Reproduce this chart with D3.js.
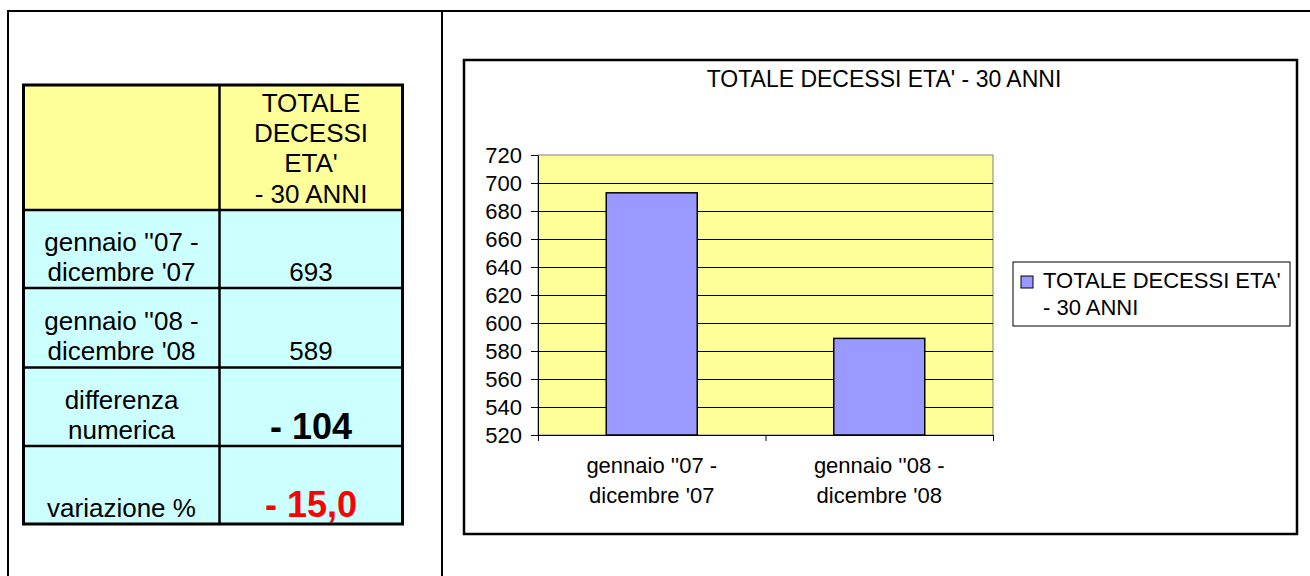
<!DOCTYPE html>
<html>
<head>
<meta charset="utf-8">
<script src="https://cdn.jsdelivr.net/npm/d3@7"></script>
<style>
  body { margin: 0; background: #fff; }
  svg { display: block; font-family: "Liberation Sans", Arial, sans-serif; }
</style>
</head>
<body>
<svg id="sheet" width="1310" height="576"></svg>
<script>
// data
var seriesName = ["TOTALE", "DECESSI", "ETA'", "- 30 ANNI"];
var legendLines = ["TOTALE DECESSI ETA'", "- 30 ANNI"];
var chartTitle = "TOTALE DECESSI ETA' - 30 ANNI";
var periods = [["gennaio ''07 -", "dicembre '07"], ["gennaio ''08 -", "dicembre '08"]];
var totals = [693, 589];
var summaryLabels = [["differenza", "numerica"], ["variazione %"]];
var summaryValues = [-104, -15.0];
var yTicks = [520, 540, 560, 580, 600, 620, 640, 660, 680, 700, 720];

var svg = d3.select("#sheet");

// page frame lines
var frame = svg.append("g").attr("stroke", "#000").attr("stroke-width", 2);
frame.append("line").attr("x1", 7).attr("x2", 1310).attr("y1", 11).attr("y2", 11);
frame.append("line").attr("x1", 8).attr("x2", 8).attr("y1", 10).attr("y2", 576);
frame.append("line").attr("x1", 442).attr("x2", 442).attr("y1", 10).attr("y2", 576);

// ---------- table ----------
var fmt = function(v) { return "- " + d3.format(".1f")(Math.abs(v)).replace(".", ","); };
var rows = [
  { label: [], value: seriesName, fill: "#FFFF99" },
  { label: periods[0], value: [String(totals[0])], fill: "#CCFFFF" },
  { label: periods[1], value: [String(totals[1])], fill: "#CCFFFF" },
  { label: summaryLabels[0], value: ["- " + Math.abs(summaryValues[0])], fill: "#CCFFFF", big: true },
  { label: summaryLabels[1], value: [fmt(summaryValues[1])], fill: "#CCFFFF", big: true, red: true }
];
var rowEdges = [85, 210, 288, 367.5, 446, 524];
var colEdges = [23.5, 219.5, 402.5];

var table = svg.append("g");
rows.forEach(function(r, i) {
  var y0 = rowEdges[i], y1 = rowEdges[i + 1];
  table.append("rect")
    .attr("x", colEdges[0]).attr("y", y0)
    .attr("width", colEdges[2] - colEdges[0]).attr("height", y1 - y0)
    .attr("fill", r.fill);

  var base = y1 - 7.5;
  var lab = table.append("text")
    .attr("text-anchor", "middle")
    .attr("font-size", 26)
    .attr("fill", "#000");
  r.label.forEach(function(t, k) {
    lab.append("tspan")
      .attr("x", (colEdges[0] + colEdges[1]) / 2)
      .attr("y", base - (r.label.length - 1 - k) * 30)
      .text(t);
  });

  var val = table.append("text")
    .attr("text-anchor", "middle")
    .attr("font-size", r.big ? 36 : 26)
    .attr("font-weight", r.big ? "bold" : "normal")
    .attr("fill", r.red ? "#FF0000" : "#000");
  r.value.forEach(function(t, k) {
    val.append("tspan")
      .attr("x", (colEdges[1] + colEdges[2]) / 2)
      .attr("y", base - (r.value.length - 1 - k) * 30.3)
      .text(t);
  });
});

// inner grid
var tl = table.append("g").attr("stroke", "#000").attr("stroke-width", 2.5);
rowEdges.slice(1, -1).forEach(function(y) {
  tl.append("line").attr("x1", colEdges[0]).attr("x2", colEdges[2]).attr("y1", y).attr("y2", y);
});
tl.append("line").attr("x1", colEdges[1]).attr("x2", colEdges[1]).attr("y1", rowEdges[0]).attr("y2", rowEdges[5]);
table.append("rect")
  .attr("x", colEdges[0]).attr("y", rowEdges[0])
  .attr("width", colEdges[2] - colEdges[0]).attr("height", rowEdges[5] - rowEdges[0])
  .attr("fill", "none").attr("stroke", "#000").attr("stroke-width", 3);

// ---------- chart ----------
svg.append("rect")
  .attr("x", 464).attr("y", 60).attr("width", 833).attr("height", 474)
  .attr("fill", "#fff").attr("stroke", "#000").attr("stroke-width", 2.5);

svg.append("text")
  .attr("x", 884).attr("y", 87)
  .attr("text-anchor", "middle").attr("font-size", 23)
  .text(chartTitle);

var plot = { left: 538, right: 993, top: 155, bottom: 435 };

var y = d3.scaleLinear()
  .domain([yTicks[0], yTicks[yTicks.length - 1]])
  .range([plot.bottom, plot.top]);

var x = d3.scaleBand()
  .domain(d3.range(periods.length))
  .range([plot.left, plot.right])
  .paddingInner(0.6)
  .paddingOuter(0.3);

var slot = d3.scaleLinear()
  .domain([0, periods.length])
  .range([plot.left, plot.right]);

svg.append("rect")
  .attr("x", plot.left).attr("y", plot.top)
  .attr("width", plot.right - plot.left).attr("height", plot.bottom - plot.top)
  .attr("fill", "#FFFF99").attr("stroke", "#808080").attr("stroke-width", 1);

svg.append("g")
  .selectAll("line")
  .data(yTicks.slice(1, -1))
  .join("line")
  .attr("x1", plot.left).attr("x2", plot.right)
  .attr("y1", function(d) { return Math.round(y(d)) + 0.5; })
  .attr("y2", function(d) { return Math.round(y(d)) + 0.5; })
  .attr("stroke", "#000").attr("stroke-width", 1);

svg.append("g")
  .selectAll("rect")
  .data(totals)
  .join("rect")
  .attr("x", function(d, i) { return x(i); })
  .attr("y", function(d) { return y(d); })
  .attr("width", x.bandwidth())
  .attr("height", function(d) { return y(yTicks[0]) - y(d); })
  .attr("fill", "#9999FF")
  .attr("stroke", "#000").attr("stroke-width", 1.5);

var yAxis = svg.append("g")
  .attr("transform", "translate(" + plot.left + ",0)")
  .call(d3.axisLeft(y).tickValues(yTicks).tickSize(7).tickSizeOuter(0).tickPadding(9));
yAxis.selectAll("text").attr("font-size", 22).attr("fill", "#000").attr("font-family", null);
yAxis.selectAll("line, path").attr("stroke", "#000");

var xAxis = svg.append("g")
  .attr("transform", "translate(0," + plot.bottom + ")")
  .call(d3.axisBottom(slot).tickValues(d3.range(periods.length + 1)).tickFormat("").tickSize(6).tickSizeOuter(0));
xAxis.selectAll("line, path").attr("stroke", "#000");

var catLabels = svg.append("g")
  .selectAll("text")
  .data(periods)
  .join("text")
  .attr("text-anchor", "middle")
  .attr("font-size", 22);
catLabels.each(function(d, i) {
  var t = d3.select(this);
  d.forEach(function(line, k) {
    t.append("tspan")
      .attr("x", x(i) + x.bandwidth() / 2)
      .attr("y", 473 + k * 30)
      .text(line);
  });
});

// legend
var legend = svg.append("g");
legend.append("rect")
  .attr("x", 1013).attr("y", 262).attr("width", 277).attr("height", 64)
  .attr("fill", "#fff").attr("stroke", "#000").attr("stroke-width", 1);
legend.append("rect")
  .attr("x", 1021).attr("y", 276).attr("width", 12).attr("height", 12)
  .attr("fill", "#9999FF").attr("stroke", "#000").attr("stroke-width", 1);
legend.append("text")
  .attr("font-size", 22)
  .selectAll("tspan")
  .data(legendLines)
  .join("tspan")
  .attr("x", 1043)
  .attr("y", function(d, i) { return 288 + i * 27; })
  .text(function(d) { return d; });
</script>
</body>
</html>
